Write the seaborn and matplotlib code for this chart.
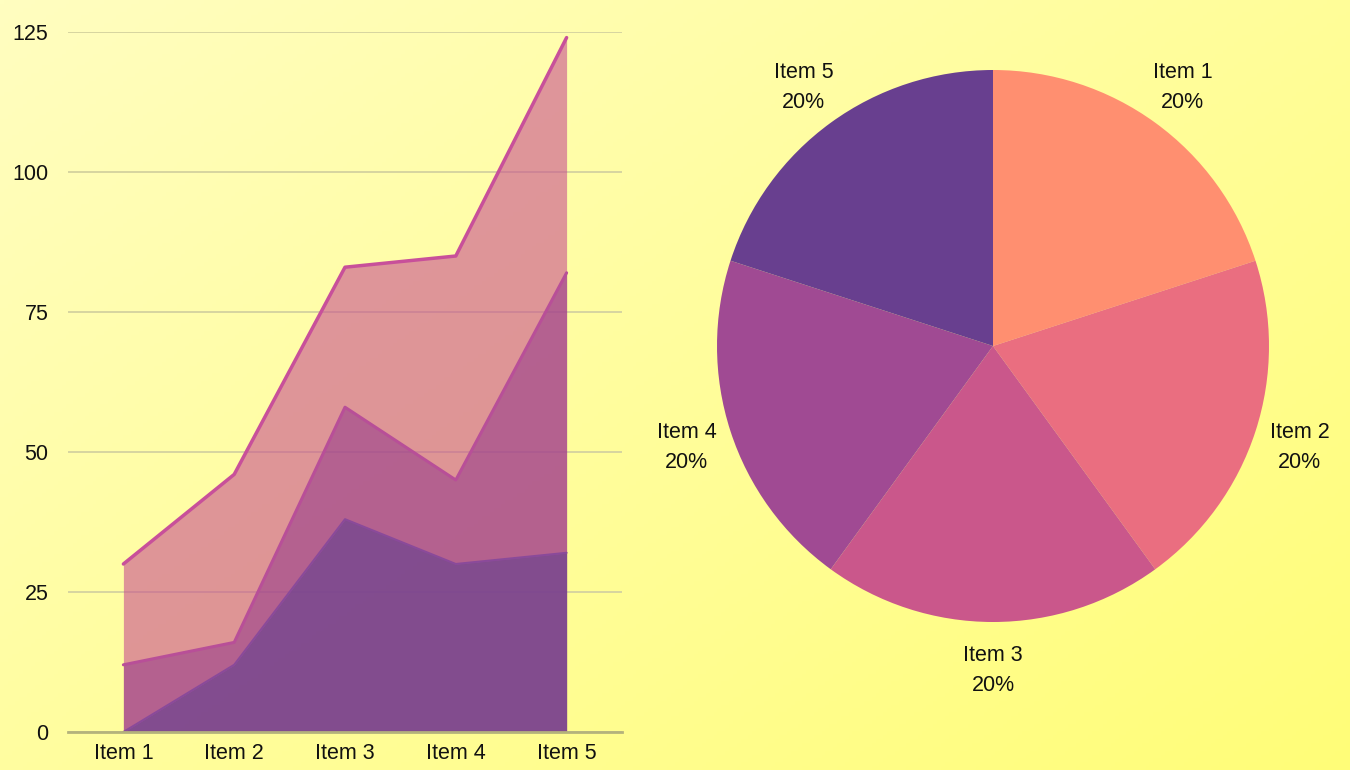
import numpy as np
import pandas as pd
import matplotlib
matplotlib.use("Agg")
import matplotlib.pyplot as plt
import seaborn as sns

# ---- data ----
categories = ["Item 1", "Item 2", "Item 3", "Item 4", "Item 5"]
series_top = [30, 46, 83, 85, 124]
series_mid = [12, 16, 58, 45, 82]
series_low = [0, 12, 38, 30, 32]
y_ticks = [0, 25, 50, 75, 100, 125]
pie_labels = ["Item 1", "Item 2", "Item 3", "Item 4", "Item 5"]
pie_values = [20, 20, 20, 20, 20]

sns.set_style("white")
plt.rcParams['font.family'] = ['Liberation Sans', 'DejaVu Sans']

W, H = 1350, 770
fig = plt.figure(figsize=(W / 100, H / 100), dpi=100)

# background gradient (light yellow top-left -> yellow bottom-right)
bg = fig.add_axes([0, 0, 1, 1], zorder=-10)
yy, xx = np.mgrid[0:1:200j, 0:1:350j]
t = np.clip((xx * 0.55 + yy * 0.45), 0, 1)
c0 = np.array([255, 254, 192]) / 255.0
c1 = np.array([255, 253, 120]) / 255.0
img = c0[None, None, :] * (1 - t[..., None]) + c1[None, None, :] * t[..., None]
bg.imshow(img, aspect='auto', extent=[0, 1, 0, 1], origin='upper')
bg.axis('off')

# ---- area chart ----
ax = fig.add_axes([68 / W, 1 - 732 / H, (622 - 68) / W, 700 / H])
ax.patch.set_alpha(0)
x = np.arange(len(categories))
df = pd.DataFrame({"x": np.tile(x, 3),
                   "y": series_top + series_mid + series_low,
                   "s": ["top"] * 5 + ["mid"] * 5 + ["low"] * 5})

fills = {"top": "#c8508f", "mid": "#983f8c", "low": "#623f8f"}
lines = {"top": "#c8509a", "mid": "#b84f98", "low": "#8a4a9a"}
lws = {"top": 2.5, "mid": 2.2, "low": 1.5}
for name, vals in [("top", series_top), ("mid", series_mid), ("low", series_low)]:
    ax.fill_between(x, 0, vals, color=fills[name], alpha=0.6, linewidth=0, zorder=2)
for name in ["top", "mid", "low"]:
    sub = df[df.s == name]
    sns.lineplot(data=sub, x="x", y="y", ax=ax, color=lines[name], lw=lws[name], zorder=3)

ax.set_xlim(-0.5, 4.5)
ax.set_ylim(0, 125)
ax.set_yticks(y_ticks)
ax.set_xticks(x)
ax.set_xticklabels(categories)
ax.set_xlabel("")
ax.set_ylabel("")
ax.grid(axis='y', color='#d6d4a0', lw=1.4, zorder=0)
ax.grid(axis='x', visible=False)
for s in ["top", "right", "left"]:
    ax.spines[s].set_visible(False)
ax.spines["bottom"].set_color("#b4b27c")
ax.spines["bottom"].set_linewidth(2)
ax.spines["bottom"].set_zorder(4)
ax.tick_params(axis='both', length=0, labelsize=15.5, colors='#111111')
ax.tick_params(axis='y', pad=14)
ax.tick_params(axis='x', pad=8)
ax.set_axisbelow(True)

# ---- pie chart ----
cx, cy, r = 993, 346, 276
pax = fig.add_axes([(cx - r) / W, 1 - (cy + r) / H, 2 * r / W, 2 * r / H])
pax.patch.set_alpha(0)
pie_colors = ["#ff8f70", "#ea6e80", "#ca578b", "#a04a93", "#683f8f"]
wedges, texts = pax.pie(pie_values, colors=pie_colors, startangle=90, counterclock=False,
                        labels=[f"{l}\n{v / sum(pie_values) * 100:.0f}%" for l, v in zip(pie_labels, pie_values)],
                        labeldistance=1.168, radius=1,
                        wedgeprops=dict(linewidth=0, edgecolor='none'),
                        textprops=dict(fontsize=15.5, color='#111111', linespacing=1.55))
for tx in texts:
    tx.set_horizontalalignment('center')
    tx.set_verticalalignment('center')
    px, py = tx.get_position()
    tx.set_position((px, py - 0.008))
pax.set_xlim(-1, 1)
pax.set_ylim(-1, 1)
pax.set_aspect('equal')
pax.axis('off')

fig.savefig("out.png", dpi=100)
